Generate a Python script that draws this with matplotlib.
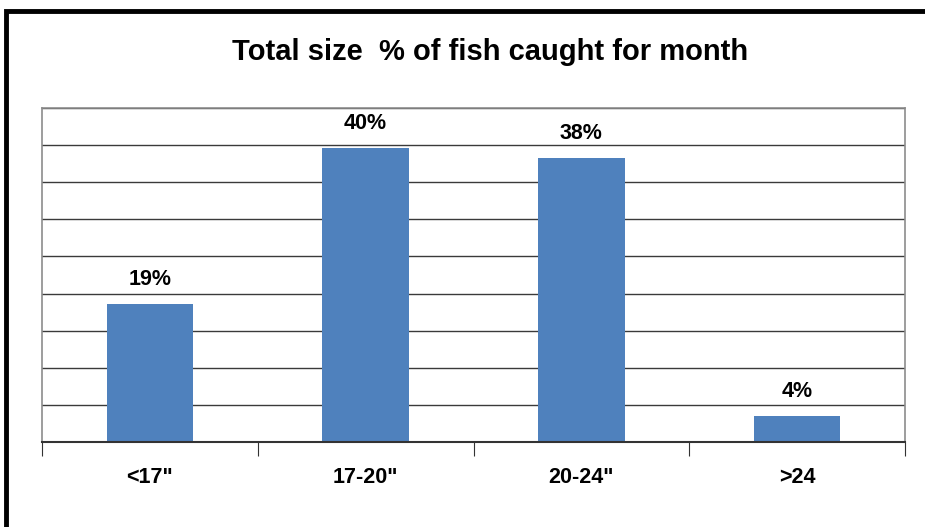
import matplotlib.pyplot as plt
import matplotlib.patches as patches
import numpy as np

plt.rcParams['font.family'] = ['Liberation Sans', 'DejaVu Sans']

# data (fractions of total)
sizes = ['<17"', '17-20"', '20-24"', '>24']
share = [18.6, 39.6, 38.2, 3.5]
labels = ['19%', '40%', '38%', '4%']

W, H = 925, 527
fig = plt.figure(figsize=(W / 100, H / 100), dpi=100)

# outer chart frame (left and top visible only)
fig.patches.append(patches.Rectangle((6 / W, -0.2), 1.2, 1.2 - 11 / H,
                                     transform=fig.transFigure, fill=False,
                                     edgecolor='black', linewidth=3.5))

ax = fig.add_axes([42 / W, (H - 442) / H, 863 / W, 334 / H])
x = np.arange(len(sizes))
ax.bar(x, share, width=0.4, color='#4F81BD', zorder=2)

ax.set_xlim(-0.5, len(sizes) - 0.5)
ax.set_ylim(0, 45)
ax.set_yticks(np.arange(0, 46, 5))
ax.yaxis.grid(True, color='#3a3a3a', linewidth=1, zorder=0)
ax.tick_params(axis='y', left=False, labelleft=False)

ax.set_xticks(x)
ax.set_xticklabels(sizes, fontsize=15.5, fontweight='bold')
ax.tick_params(axis='x', which='major', length=0, pad=18)
ax.set_xticks(np.arange(-0.5, len(sizes)), minor=True)
ax.tick_params(axis='x', which='minor', length=10, width=0.8, color='#333333')

for s in ['top', 'left', 'right']:
    ax.spines[s].set_color('#8c8c8c')
    ax.spines[s].set_linewidth(1.2)
ax.spines['bottom'].set_color('#333333')
ax.spines['bottom'].set_linewidth(1.5)

for xi, v, lab in zip(x, share, labels):
    ax.annotate(lab, (xi, v), xytext=(0, 14), textcoords='offset points',
                ha='center', va='baseline', fontsize=15.5, fontweight='bold')

fig.text(490 / W, 1 - 60 / H, 'Total size  % of fish caught for month',
         ha='center', va='baseline', fontsize=21, fontweight='bold')

fig.savefig('out.png', dpi=100)
